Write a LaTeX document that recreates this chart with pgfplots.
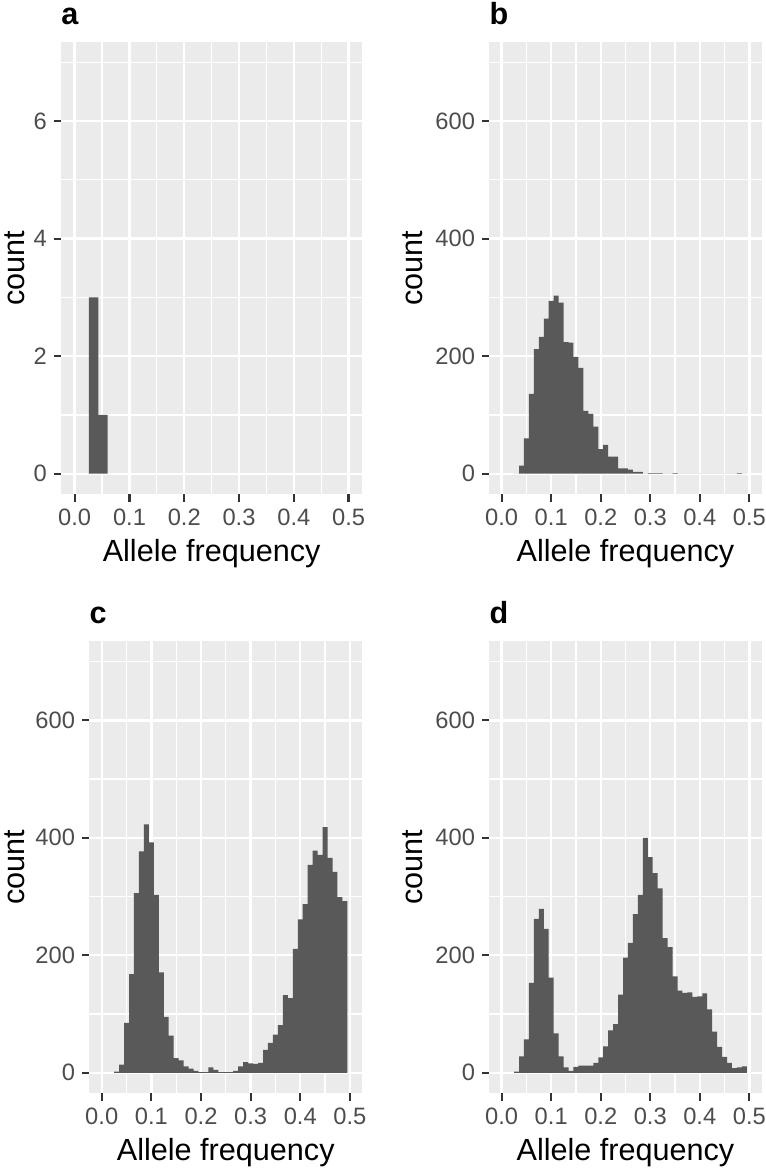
\documentclass[border=0pt]{standalone}
\usepackage{fontspec}
\setmainfont{Liberation Sans}
\usepackage{pgfplots}
\pgfplotsset{compat=1.18}

\definecolor{ggbg}{HTML}{EBEBEB}
\definecolor{ggbar}{HTML}{595959}
\definecolor{ggtick}{HTML}{333333}
\definecolor{ggtext}{HTML}{4D4D4D}

\pgfplotsset{
  gg/.style={
    scale only axis,
    axis background/.style={fill=ggbg},
    axis line style={draw=none},
    tick pos=left,
    tick align=outside,
    major tick length=3.6pt,
    minor tick length=0pt,
    tick style={draw=ggtick, line width=1.1pt},
    grid=both,
    major grid style={draw=white, line width=1.2pt},
    minor grid style={draw=white, line width=0.6pt},
    xmin=-0.025, xmax=0.525,
    xtick={0,0.1,0.2,0.3,0.4,0.5},
    minor xtick={0.05,0.15,0.25,0.35,0.45},
    xticklabel style={/pgf/number format/fixed, /pgf/number format/fixed zerofill, /pgf/number format/precision=1},
    /pgf/number format/assume math mode=true,
    tick label style={font=\fontsize{11.85}{14}\selectfont, color=ggtext},
    label style={font=\fontsize{15.3}{18}\selectfont},
    xlabel={Allele frequency},
    ylabel={count},
    ylabel shift=-0.75pt,
    title style={at={(0,1)}, anchor=base west, inner sep=0pt, yshift=2.6pt,
      font=\fontsize{15.3}{18}\selectfont\bfseries},
  },
  big/.style={
    ymin=-35, ymax=735,
    ytick={0,200,400,600},
    minor ytick={100,300,500,700},
  },
  bars/.style={draw=none, fill=ggbar, const plot},
}

\begin{document}
\begin{tikzpicture}
\path[use as bounding box] (0pt,0pt) rectangle (383pt,-584pt);

% a
\begin{axis}[gg, at={(30.5pt,-247.15pt)}, anchor=south west,
  width=150.65pt, height=226.3pt, title={a}, ylabel shift=-2.6pt,
  ymin=-0.35, ymax=7.35, ytick={0,2,4,6}, minor ytick={1,3,5,7}]
\addplot[bars] coordinates {(0.02586,3) (0.04310,1) (0.06034,1)} \closedcycle;
\end{axis}

% b
\begin{axis}[gg, big, at={(244.65pt,-247.15pt)}, anchor=south west,
  width=136.2pt, height=226.3pt, title={b}]
\addplot[bars] coordinates {
(0.025,0) (0.035,14) (0.045,60) (0.055,136) (0.065,212) (0.075,233) (0.085,264)
(0.095,294) (0.105,303) (0.115,291) (0.125,224) (0.135,223) (0.145,199) (0.155,180)
(0.165,107) (0.175,102) (0.185,80) (0.195,42) (0.205,49) (0.215,29) (0.225,29)
(0.235,9) (0.245,9) (0.255,7) (0.265,3) (0.275,3) (0.285,0) (0.295,1) (0.305,1)
(0.315,1) (0.325,0) (0.335,0) (0.345,1) (0.355,0) (0.365,0) (0.375,0) (0.385,0)
(0.395,0) (0.405,0) (0.415,0) (0.425,0) (0.435,0) (0.445,0) (0.455,0) (0.465,0)
(0.475,1) (0.485,0) (0.495,0)} \closedcycle;
\end{axis}

% c
\begin{axis}[gg, big, at={(44.65pt,-546.65pt)}, anchor=south west,
  width=136.5pt, height=226.15pt, title={c}, ylabel shift=-1.6pt]
\addplot[bars] coordinates {
(0.025,2) (0.035,14) (0.045,85) (0.055,168) (0.065,306) (0.075,377) (0.085,423)
(0.095,392) (0.105,303) (0.115,171) (0.125,95) (0.135,63) (0.145,25) (0.155,21)
(0.165,11) (0.175,7) (0.185,3) (0.195,1) (0.205,1) (0.215,9) (0.225,5)
(0.235,1) (0.245,1) (0.255,1) (0.265,3) (0.275,11) (0.285,18) (0.295,16) (0.305,15)
(0.315,17) (0.325,39) (0.335,51) (0.345,65) (0.355,81) (0.365,132) (0.375,127) (0.385,211)
(0.395,261) (0.405,287) (0.415,354) (0.425,378) (0.435,371) (0.445,418) (0.455,366) (0.465,342)
(0.475,299) (0.485,292) (0.495,292)} \closedcycle;
\end{axis}

% d
\begin{axis}[gg, big, at={(244.65pt,-546.65pt)}, anchor=south west,
  width=136.2pt, height=226.15pt, title={d}]
\addplot[bars] coordinates {
(0.025,2) (0.035,28) (0.045,57) (0.055,153) (0.065,262) (0.075,279) (0.085,245)
(0.095,162) (0.105,67) (0.115,28) (0.125,9) (0.135,3) (0.145,10) (0.155,12)
(0.165,12) (0.175,12) (0.185,17) (0.195,26) (0.205,45) (0.215,72) (0.225,83)
(0.235,133) (0.245,196) (0.255,221) (0.265,270) (0.275,303) (0.285,400) (0.295,367) (0.305,340)
(0.315,314) (0.325,229) (0.335,214) (0.345,164) (0.355,140) (0.365,136) (0.375,137) (0.385,129)
(0.395,130) (0.405,135) (0.415,108) (0.425,70) (0.435,44) (0.445,27) (0.455,17) (0.465,8)
(0.475,9) (0.485,11) (0.495,11)} \closedcycle;
\end{axis}
\end{tikzpicture}
\end{document}
